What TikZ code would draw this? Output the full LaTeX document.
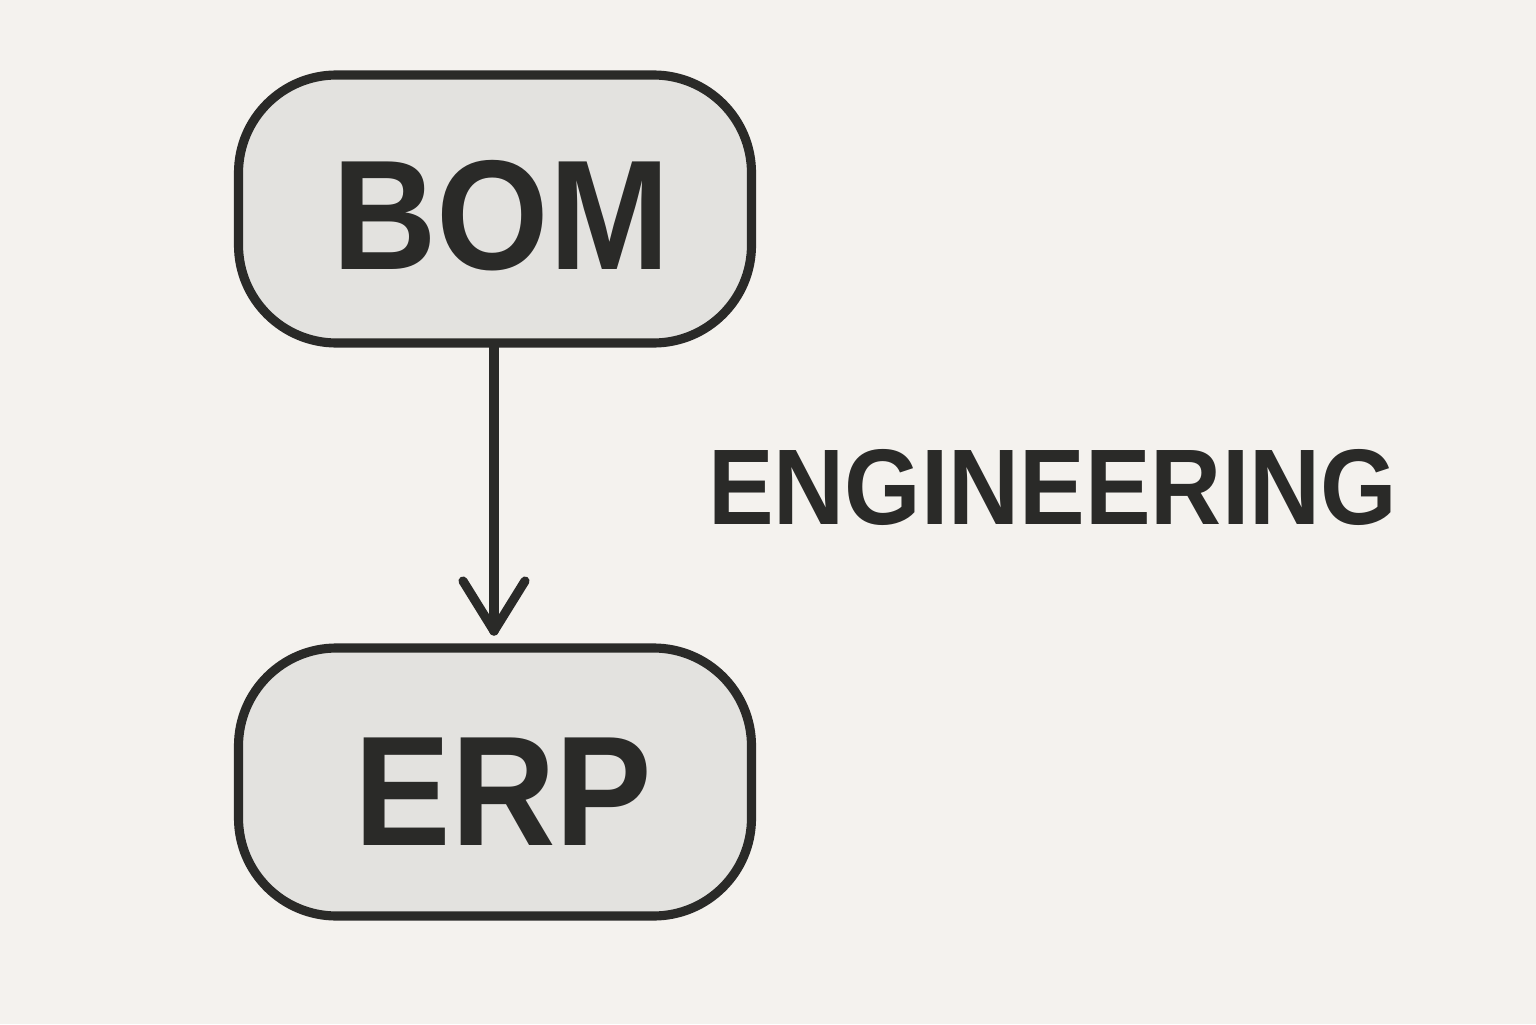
\documentclass[tikz,border=0pt]{standalone}
\usepackage{fontspec}
\setmainfont{Liberation Sans}
\definecolor{bg}{HTML}{F4F2EE}
\definecolor{boxfill}{HTML}{E3E2DF}
\definecolor{ink}{HTML}{2A2A28}
\begin{document}
\begin{tikzpicture}[
  box/.style={draw=ink, fill=boxfill, line width=2.6pt, rounded corners=0.98cm,
    minimum width=5.13cm, minimum height=2.68cm, inner sep=0pt},
  big/.style={anchor=base, inner sep=0pt, text=ink, font=\fontsize{44.5}{50}\selectfont\bfseries},
  mid/.style={anchor=base, inner sep=0pt, text=ink, font=\fontsize{30.6}{36}\selectfont\bfseries},
  conn/.style={draw=ink, line width=2.6pt, line cap=round, line join=round}
]
\fill[bg] (0,0) rectangle (15.36,10.24);
\useasboundingbox (0,0) rectangle (15.36,10.24);
\node[box] (bom) at (4.95,8.15) {};
\node[box] (erp) at (4.95,2.42) {};
\node[big] (bomt) at (5.01,7.54) {\scalebox{0.925}[1]{BOM}};
\node[big] (erpt) at (5.035,1.79) {\scalebox{0.925}[1]{ERP}};
\node[mid] (eng) at (10.525,5.0) {\scalebox{0.915}[1]{ENGINEERING}};
\coordinate (tip) at (4.94,3.93);
\draw[conn] (bom.south -| tip) -- (tip);
\draw[conn] ([shift={(-0.31,0.5)}]tip) -- (tip) -- ([shift={(0.31,0.5)}]tip);
\end{tikzpicture}
\end{document}
